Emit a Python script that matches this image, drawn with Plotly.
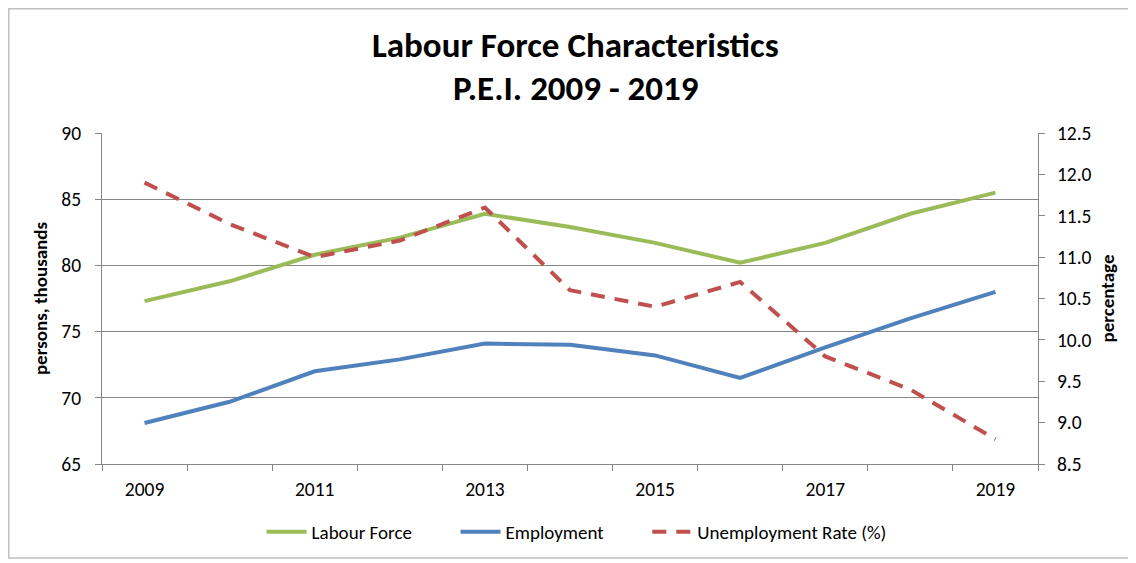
import plotly.graph_objects as go

years = [2009, 2010, 2011, 2012, 2013, 2014, 2015, 2016, 2017, 2018, 2019]
labour_force = [77.3, 78.8, 80.8, 82.1, 83.9, 82.9, 81.7, 80.2, 81.7, 83.9, 85.5]
employment = [68.1, 69.7, 72.0, 72.9, 74.1, 74.0, 73.2, 71.5, 73.8, 76.0, 78.0]
unemployment_rate = [11.9, 11.4, 11.0, 11.2, 11.6, 10.6, 10.4, 10.7, 9.8, 9.4, 8.8]

label_years = years[::2]
boundaries = [y - 0.5 for y in years] + [years[-1] + 0.5]

FONT = "Carlito, Lato, sans-serif"
GRID = "#868686"
PAD = "\u00a0" * 9  # extra spacing between legend entries

# page body has an 8px margin, so the figure is sized/offset to compensate
W, H = 1128, 555
L, R, T, B = 94, 98, 125, 99
PW, PH = W - L - R, H - T - B

fig = go.Figure()
fig.add_trace(go.Scatter(x=years, y=labour_force, name="Labour Force" + PAD, mode="lines",
                         line=dict(color="#9BBB59", width=4)))
fig.add_trace(go.Scatter(x=years, y=employment, name="Employment" + PAD, mode="lines",
                         line=dict(color="#4F81BD", width=4)))
fig.add_trace(go.Scatter(x=years, y=unemployment_rate, name="Unemployment Rate (%)", mode="lines",
                         line=dict(color="#C0504D", width=4, dash="14px,10px"), yaxis="y2"))

fig.update_layout(
    width=W, height=H,
    margin=dict(l=L, r=R, t=T, b=B),
    paper_bgcolor="white", plot_bgcolor="white",
    font=dict(family=FONT, color="#000000", size=19),
    showlegend=True,
    legend=dict(orientation="h", x=0.507, xanchor="center", y=-0.205, yanchor="middle",
                font=dict(size=19), itemwidth=40, traceorder="normal"),
    xaxis=dict(range=[2008.5, 2019.5], tickmode="array", tickvals=label_years,
               ticktext=[str(y) for y in label_years], ticks="", showgrid=False,
               showline=True, linecolor=GRID, linewidth=1, zeroline=False,
               tickfont=dict(size=19.5), ticklabelstandoff=8,
               minor=dict(tickmode="array", tickvals=boundaries, ticks="outside",
                          ticklen=6, tickcolor=GRID, showgrid=False)),
    yaxis=dict(range=[65, 90], dtick=5, tick0=65, showgrid=True, gridcolor=GRID, gridwidth=1,
               showline=True, linecolor=GRID, ticks="outside", ticklen=6, tickcolor=GRID,
               zeroline=False, tickfont=dict(size=19.5), ticklabelstandoff=10,
               title=dict(text="<b>persons, thousands</b>", font=dict(size=19), standoff=8)),
    yaxis2=dict(range=[8.5, 12.5], dtick=0.5, tick0=8.5, tickformat=".1f", overlaying="y",
                side="right", showgrid=False, showline=True, linecolor=GRID, ticks="outside",
                ticklen=6, tickcolor=GRID, zeroline=False, tickfont=dict(size=19.5),
                ticklabelstandoff=8,
                title=dict(text="<b>percentage</b>", font=dict(size=19), standoff=10)),
    annotations=[
        dict(text="<b>Labour Force Characteristics</b>", xref="paper", yref="paper",
             x=0.506, y=1 + (133 - 45) / PH, xanchor="center", yanchor="middle",
             showarrow=False, font=dict(size=35)),
        dict(text="<b>P.E.I. 2009 - 2019</b>", xref="paper", yref="paper",
             x=0.506, y=1 + (133 - 88) / PH, xanchor="center", yanchor="middle",
             showarrow=False, font=dict(size=35)),
    ],
    shapes=[dict(type="rect", xref="paper", yref="paper",
                 x0=(0.75 - L) / PW, x1=(W + 20 - L) / PW,
                 y0=-(550 - T - PH) / PH, y1=1 + (T - 0.75) / PH,
                 line=dict(color="#bfbfbf", width=1.5), layer="below")],
)

fig.write_html("out.html")
